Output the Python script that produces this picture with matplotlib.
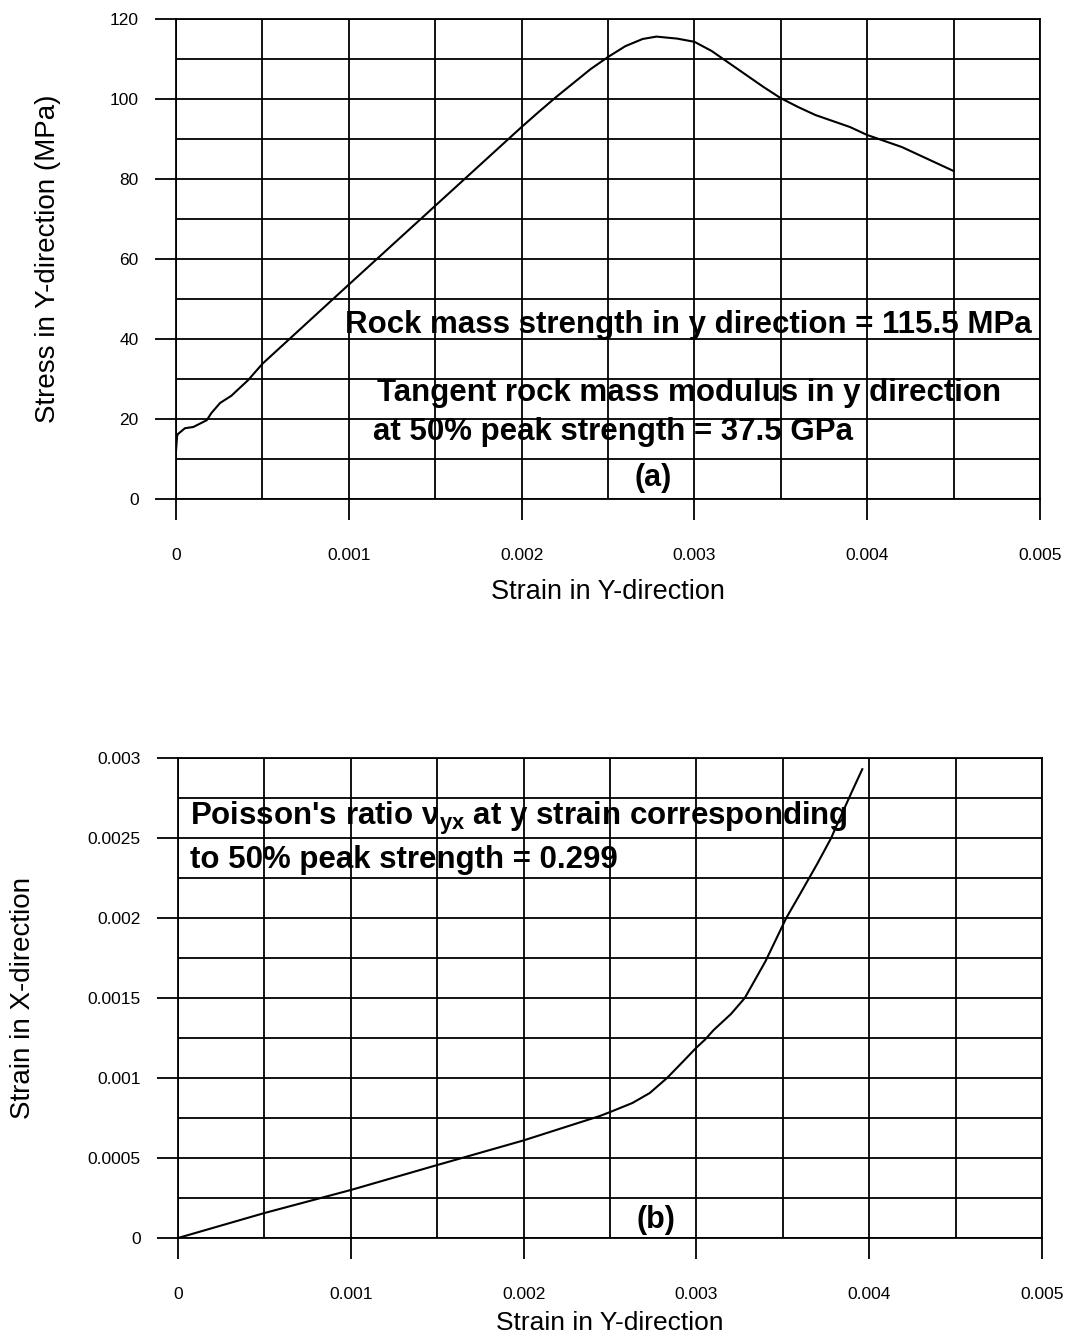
import numpy as np
import matplotlib
matplotlib.use("Agg")
import matplotlib.pyplot as plt
from matplotlib.ticker import MultipleLocator, FuncFormatter

plt.rcParams['font.family'] = ['Liberation Sans', 'DejaVu Sans']

# (a) stress-strain response in the y direction
strain_y_a = [0.0, 0.000006, 0.00001, 0.000052, 0.0001, 0.000178, 0.000205, 0.000255,
              0.000320, 0.000417, 0.0005, 0.001, 0.0015,
              0.002, 0.0021, 0.0022, 0.0023, 0.0024, 0.0025, 0.0026, 0.0027,
              0.00278, 0.0029, 0.003, 0.0031, 0.0032, 0.0033, 0.0034, 0.0035, 0.0036,
              0.0037, 0.0038, 0.0039, 0.004, 0.0041, 0.0042, 0.0043, 0.0044, 0.0045]
stress_y_a = [12.0, 15.6, 16.2, 17.7, 18.0, 19.7, 21.5, 24.0,
              25.8, 29.7, 33.8, 53.6, 73.3,
              93.0, 96.8, 100.5, 104.0, 107.5, 110.5, 113.2, 115.0,
              115.6, 115.1, 114.3, 112.0, 109.0, 106.0, 103.0, 100.2, 98.0,
              96.0, 94.5, 93.0, 91.0, 89.5, 88.0, 86.0, 84.0, 82.0]

# (b) lateral strain versus axial strain
strain_y_b = [0.0, 0.0005, 0.001, 0.0015, 0.002, 0.00244, 0.0025, 0.00263, 0.00273,
              0.00283, 0.00292, 0.0030, 0.00305, 0.0031, 0.0032, 0.00328, 0.0034,
              0.00352, 0.0036, 0.0037, 0.00378, 0.0038, 0.0039, 0.00396]
strain_x_b = [0.0, 0.000156, 0.0003, 0.000456, 0.00061, 0.000762, 0.000787, 0.000844,
              0.000906, 0.001, 0.0011, 0.00119, 0.00124, 0.0013, 0.0014, 0.0015,
              0.00173, 0.0020, 0.00215, 0.00234, 0.0025, 0.00255, 0.00279, 0.00293]

x_ticks = [0, 0.001, 0.002, 0.003, 0.004, 0.005]
x_tick_labels = ["0", "0.001", "0.002", "0.003", "0.004", "0.005"]

W, H = 1070, 1343
fig = plt.figure(figsize=(W / 100, H / 100), dpi=100)


def px_axes(left, top, right, bottom):
    return fig.add_axes([left / W, 1 - bottom / H, (right - left) / W, (bottom - top) / H])


def style(ax, xmajor, ymajor, yminor, ymax):
    ax.set_xlim(0, 0.005)
    ax.set_ylim(0, ymax)
    ax.set_xticks(x_ticks)
    ax.set_xticklabels(x_tick_labels)
    ax.xaxis.set_minor_locator(MultipleLocator(xmajor / 2))
    ax.yaxis.set_major_locator(MultipleLocator(ymajor))
    ax.yaxis.set_minor_locator(MultipleLocator(yminor))
    ax.grid(True, which='both', color='black', linewidth=1.3)
    ax.set_axisbelow(True)
    for s in ax.spines.values():
        s.set_linewidth(1.3)
    ax.tick_params(axis='both', which='major', direction='out', length=15,
                   width=1.3, labelsize=12.5)
    ax.tick_params(axis='x', which='major', pad=20)
    ax.tick_params(axis='y', which='major', pad=12)
    ax.tick_params(which='minor', length=0)


bold = dict(fontsize=22.5, fontweight='bold', color='black', va='center', ha='left')

# ---- (a) ----
ax1 = px_axes(176, 19, 1040, 499)
style(ax1, 0.001, 20, 10, 120)
ax1.plot(strain_y_a, stress_y_a, color='black', linewidth=1.5)
ax1.set_xlabel("Strain in Y-direction", fontsize=19.5, labelpad=12)
ax1.set_ylabel("Stress in Y-direction (MPa)", fontsize=20, labelpad=35)
ax1.yaxis.set_major_formatter(FuncFormatter(lambda v, p: f"{v:.0f}"))

ax1.text(0.000978, 43.5, "Rock mass strength in y direction = 115.5 MPa", **bold)
ax1.text(0.001163, 26.5, "Tangent rock mass modulus in y direction", **bold)
ax1.text(0.00114, 16.8, "at 50% peak strength = 37.5 GPa", **bold)
ax1.text(0.00276, 5.3, "(a)", fontsize=22, fontweight='bold', ha='center', va='center')

# ---- (b) ----
ax2 = px_axes(178, 758, 1042, 1238)
style(ax2, 0.001, 0.0005, 0.00025, 0.003)
ax2.plot(strain_y_b, strain_x_b, color='black', linewidth=1.5)
ax2.set_xlabel("Strain in Y-direction", fontsize=19, labelpad=7)
ax2.set_ylabel("Strain in X-direction", fontsize=20, labelpad=37)
ax2.yaxis.set_major_formatter(FuncFormatter(lambda v, p: f"{v:g}"))

ax2.text(0.0000694, 0.002625,
         r"Poisson's ratio $\mathregular{\nu_{yx}}$ at y strain corresponding", **bold)
ax2.text(0.0000694, 0.0023625, "to 50% peak strength = 0.299", **bold)
ax2.text(0.002766, 0.0001125, "(b)", fontsize=22, fontweight='bold', ha='center', va='center')

fig.savefig("out.png", dpi=100)
